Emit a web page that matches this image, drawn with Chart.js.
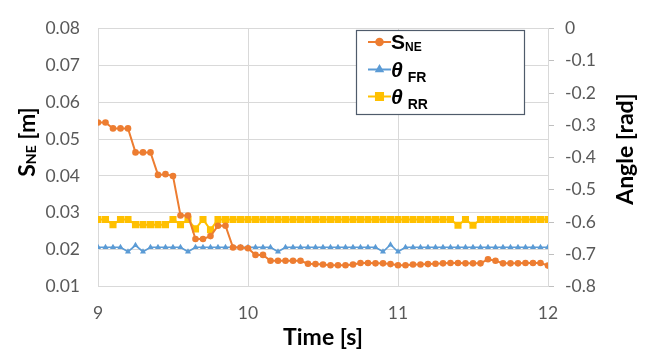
<!DOCTYPE html>
<html>
<head>
<meta charset="utf-8">
<script src="https://cdn.jsdelivr.net/npm/chart.js@4"></script>
<style>
  html, body { margin: 0; padding: 0; background: #fff; }
  #wrap { width: 650px; height: 349px; position: relative; }
</style>
</head>
<body>
<div id="wrap"><canvas id="chart" width="650" height="349"></canvas></div>
<script>
// time [s]
const time = [9.00, 9.05, 9.10, 9.15, 9.20, 9.25, 9.30, 9.35, 9.40, 9.45,
  9.50, 9.55, 9.60, 9.65, 9.70, 9.75, 9.80, 9.85, 9.90, 9.95,
  10.00, 10.05, 10.10, 10.15, 10.20, 10.25, 10.30, 10.35, 10.40, 10.45,
  10.50, 10.55, 10.60, 10.65, 10.70, 10.75, 10.80, 10.85, 10.90, 10.95,
  11.00, 11.05, 11.10, 11.15, 11.20, 11.25, 11.30, 11.35, 11.40, 11.45,
  11.50, 11.55, 11.60, 11.65, 11.70, 11.75, 11.80, 11.85, 11.90, 11.95, 12.00];

// S_NE [m]
const sNE = [0.0545, 0.0545, 0.0529, 0.0529, 0.0529, 0.0464, 0.0464, 0.0464, 0.0403, 0.0405,
  0.0400, 0.0293, 0.0293, 0.0229, 0.0229, 0.0237, 0.0265, 0.0265, 0.0206, 0.0206,
  0.0204, 0.0186, 0.0186, 0.0170, 0.0170, 0.0170, 0.0170, 0.0170, 0.0162, 0.0161,
  0.0160, 0.0158, 0.0158, 0.0158, 0.0160, 0.0164, 0.0164, 0.0163, 0.0163, 0.0161,
  0.0158, 0.0158, 0.0160, 0.0160, 0.0161, 0.0162, 0.0163, 0.0164, 0.0164, 0.0163,
  0.0163, 0.0163, 0.0174, 0.0170, 0.0163, 0.0163, 0.0163, 0.0164, 0.0164, 0.0164, 0.0157];

// theta FR [rad]
const thetaFR = [-0.678, -0.678, -0.678, -0.678, -0.692, -0.672, -0.692, -0.678, -0.678, -0.678,
  -0.678, -0.678, -0.692, -0.678, -0.678, -0.678, -0.678, -0.678, -0.678, -0.678,
  -0.678, -0.678, -0.678, -0.678, -0.692, -0.678, -0.678, -0.678, -0.678, -0.678,
  -0.678, -0.678, -0.678, -0.678, -0.678, -0.678, -0.678, -0.678, -0.692, -0.670,
  -0.692, -0.678, -0.678, -0.678, -0.678, -0.678, -0.678, -0.678, -0.678, -0.678,
  -0.678, -0.678, -0.678, -0.678, -0.678, -0.678, -0.678, -0.678, -0.678, -0.678, -0.678];

// theta RR [rad]
const thetaRR = [-0.592, -0.592, -0.608, -0.592, -0.592, -0.608, -0.608, -0.608, -0.608, -0.608,
  -0.592, -0.608, -0.592, -0.621, -0.592, -0.624, -0.592, -0.592, -0.592, -0.592,
  -0.592, -0.592, -0.592, -0.592, -0.592, -0.592, -0.592, -0.592, -0.592, -0.592,
  -0.592, -0.592, -0.592, -0.592, -0.592, -0.592, -0.592, -0.592, -0.592, -0.592,
  -0.592, -0.592, -0.592, -0.592, -0.592, -0.592, -0.592, -0.592, -0.610, -0.592,
  -0.610, -0.592, -0.592, -0.592, -0.592, -0.592, -0.592, -0.592, -0.592, -0.592, -0.592];

const xTicks = [9, 10, 11, 12];

const ORANGE = '#ED7D31';
const BLUE = '#5B9BD5';
const YELLOW = '#FFC000';
const GRID = '#d9d9d9';
const TICK = '#595959';

function pts(ys) {
  return time.map((t, i) => ({ x: t, y: ys[i] }));
}

// axis titles + legend with subscripts
const extras = {
  id: 'extras',
  afterDraw(chart) {
    const ctx = chart.ctx;
    ctx.save();
    ctx.fillStyle = '#000';
    ctx.textBaseline = 'alphabetic';

    // left title
    ctx.save();
    ctx.translate(35, 142);
    ctx.rotate(-Math.PI / 2);
    const big = 'bold 23px Lato';
    const sub = 'bold 14px Lato';
    ctx.font = big; const wS = ctx.measureText('S').width;
    ctx.font = sub; const wNE = ctx.measureText('NE').width;
    ctx.font = big; const wM = ctx.measureText(' [m]').width;
    let x0 = -(wS + wNE + wM) / 2;
    ctx.textAlign = 'left';
    ctx.font = big; ctx.fillText('S', x0, 0);
    ctx.font = sub; ctx.fillText('NE', x0 + wS, 1);
    ctx.font = big; ctx.fillText(' [m]', x0 + wS + wNE, 0);
    ctx.restore();

    // right title
    ctx.save();
    ctx.translate(633, 149);
    ctx.rotate(-Math.PI / 2);
    ctx.textAlign = 'center';
    ctx.font = 'bold 23px Lato';
    ctx.fillText('Angle [rad]', 0, 0);
    ctx.restore();

    // x title
    ctx.textAlign = 'center';
    ctx.font = 'bold 23px Lato';
    ctx.fillText('Time [s]', 323, 345);

    // legend
    ctx.fillStyle = '#fff';
    ctx.fillRect(356.5, 30.5, 168, 84);
    ctx.strokeStyle = '#4f5b6b';
    ctx.lineWidth = 1.2;
    ctx.strokeRect(356.5, 30.5, 168, 84);

    const rows = [
      { color: ORANGE, style: 'circle', r: 3.3, y: 42, main: 'S', sub: 'NE', italic: false },
      { color: BLUE, style: 'triangle', r: 3.5, y: 69.5, main: '\u03b8', sub: 'FR', italic: true },
      { color: YELLOW, style: 'rect', r: 5, y: 96.5, main: '\u03b8', sub: 'RR', italic: true }
    ];
    rows.forEach(row => {
      ctx.strokeStyle = row.color;
      ctx.lineWidth = 2;
      ctx.beginPath();
      ctx.moveTo(368, row.y);
      ctx.lineTo(391, row.y);
      ctx.stroke();
      ctx.fillStyle = row.color;
      Chart.helpers.drawPoint(ctx, { pointStyle: row.style, radius: row.r, rotation: 0, borderWidth: 1 }, 379.5, row.y);
      ctx.fillStyle = '#000';
      ctx.textAlign = 'left';
      ctx.font = (row.italic ? 'italic ' : '') + 'bold 21px "Liberation Sans"';
      ctx.fillText(row.main, 391, row.y + 7);
      const w = ctx.measureText(row.main).width;
      if (row.italic) {
        ctx.font = 'bold 14px "Liberation Sans"';
        ctx.fillText(row.sub, 391 + w + 5, row.y + 12);
      } else {
        ctx.font = 'bold 12px "Liberation Sans"';
        ctx.fillText(row.sub, 391 + w, row.y + 9);
      }
    });
    ctx.restore();
  }
};

new Chart(document.getElementById('chart').getContext('2d'), {
  type: 'line',
  data: {
    datasets: [
      {
        label: 'S_NE',
        data: pts(sNE),
        yAxisID: 'y',
        borderColor: ORANGE,
        backgroundColor: ORANGE,
        borderWidth: 2,
        pointStyle: 'circle',
        pointRadius: 3.3,
        pointBorderWidth: 0,
        tension: 0
      },
      {
        label: 'theta_FR',
        data: pts(thetaFR),
        yAxisID: 'y1',
        borderColor: BLUE,
        backgroundColor: BLUE,
        borderWidth: 1.7,
        pointStyle: 'triangle',
        pointRadius: 3.5,
        pointBorderWidth: 0,
        tension: 0
      },
      {
        label: 'theta_RR',
        data: pts(thetaRR),
        yAxisID: 'y1',
        borderColor: YELLOW,
        backgroundColor: YELLOW,
        borderWidth: 2,
        pointStyle: 'rect',
        pointRadius: 5,
        pointBorderWidth: 0,
        tension: 0
      }
    ]
  },
  options: {
    responsive: false,
    animation: false,
    layout: { padding: { top: 18.5, left: 0, right: 0, bottom: 0 } },
    plugins: {
      legend: { display: false },
      tooltip: { enabled: false }
    },
    scales: {
      x: {
        type: 'linear',
        min: 9,
        max: 12,
        afterBuildTicks: axis => { axis.ticks = xTicks.map(v => ({ value: v })); },
        afterFit: axis => { axis.height = 62.4; },
        grid: { color: GRID, drawTicks: false },
        border: { color: GRID },
        ticks: { color: TICK, padding: 16, font: { family: 'Lato', size: 17.5 }, maxRotation: 0 }
      },
      y: {
        position: 'left',
        min: 0.01,
        max: 0.08,
        afterFit: axis => { axis.width = 98; },
        grid: { color: GRID, drawTicks: false },
        border: { color: GRID },
        ticks: {
          stepSize: 0.01,
          color: TICK,
          padding: 18,
          font: { family: 'Lato', size: 17.5 },
          callback: v => v.toFixed(2)
        }
      },
      y1: {
        position: 'right',
        min: -0.8,
        max: 0,
        afterFit: axis => { axis.width = 102; },
        grid: { drawOnChartArea: false, color: '#bfbfbf', tickLength: 6 },
        border: { color: GRID },
        ticks: {
          stepSize: 0.1,
          color: TICK,
          padding: 11,
          font: { family: 'Lato', size: 17.5 },
          callback: v => (Math.abs(v) < 1e-9 ? '0' : v.toFixed(1))
        }
      }
    }
  },
  plugins: [extras]
});
</script>
</body>
</html>
